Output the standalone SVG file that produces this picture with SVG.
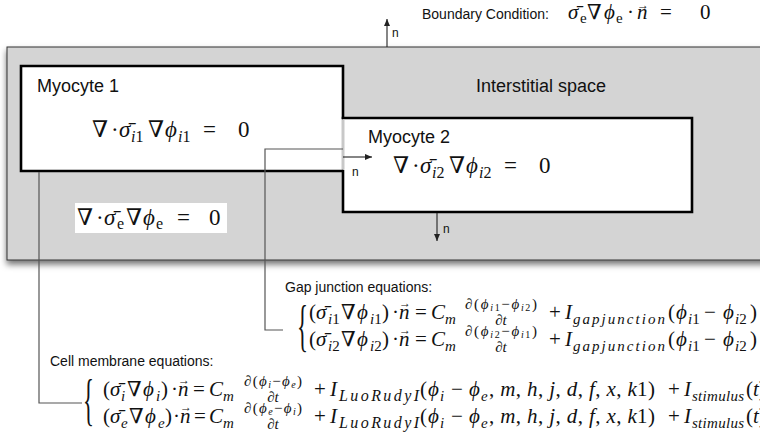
<svg xmlns="http://www.w3.org/2000/svg" width="760" height="440" viewBox="0 0 760 440">
<defs>
<filter id="sh" x="-5%" y="-5%" width="110%" height="120%">
<feDropShadow dx="0" dy="4" stdDeviation="3" flood-color="#000" flood-opacity="0.55"/>
</filter>
<marker id="ah" markerWidth="8" markerHeight="8" refX="7" refY="4" orient="auto" markerUnits="userSpaceOnUse">
<path d="M0,1 L7,4 L0,7 Z" fill="#222"/>
</marker>
</defs>
<style>
.lbl{font-family:"Liberation Sans",Arial,sans-serif;font-size:18px;fill:#111}
.cap{font-family:"Liberation Sans",Arial,sans-serif;font-size:14px;fill:#111}
.nl{font-family:"Liberation Sans",Arial,sans-serif;font-size:12px;fill:#111}
.m{font-family:"Liberation Serif","DejaVu Serif",serif;font-size:21px;fill:#111}
.big{font-size:23px}
.bsb{font-size:16px}
.it{font-style:italic}
.sb{font-size:15px}
.sb2{font-size:16px}
.fr{font-size:15px}
.fs{font-size:10px}
.vec{font-size:12px}
.brace{font-size:57px}
.ar{stroke:#222;stroke-width:1.1;fill:none;marker-end:url(#ah)}
.cn{stroke:#555;stroke-width:1.2;fill:none}
.cell{fill:#fff;stroke:#000;stroke-width:2.6;stroke-linecap:square}
</style>
<rect width="760" height="440" fill="#fff"/>
<g id="interstitial">
<rect x="7" y="47" width="770" height="213" fill="#d4d4d4" stroke="#333" stroke-width="1" filter="url(#sh)"/>
<text class="lbl" x="476" y="92">Interstitial space</text>
<rect x="75" y="203" width="152" height="30" fill="#fff"/>
<text class="m big" y="225"><tspan x="77">∇</tspan><tspan x="96">·</tspan><tspan x="104" class="it">σ̄</tspan><tspan x="117" class="bsb" dy="4">e</tspan><tspan x="126" dy="-4">∇</tspan><tspan x="143" class="it">ϕ</tspan><tspan x="156" class="bsb" dy="4">e</tspan><tspan x="177" dy="-4">=</tspan><tspan x="209">0</tspan></text>
</g>
<g id="myocyte1">
<path class="cell" d="M343,118 V66 H21 V171 H343"/>
<text class="lbl" x="37" y="92">Myocyte 1</text>
<text class="m big" y="137"><tspan x="92">∇</tspan><tspan x="111">·</tspan><tspan x="119" class="it">σ̄</tspan><tspan x="131" class="bsb" dy="5"><tspan class="it">i</tspan>1</tspan><tspan x="148" dy="-5">∇</tspan><tspan x="165" class="it">ϕ</tspan><tspan x="178" class="bsb" dy="5"><tspan class="it">i</tspan>1</tspan><tspan x="203" dy="-5">=</tspan><tspan x="238">0</tspan></text>
</g>
<g id="myocyte2">
<path class="cell" d="M343,171 V212 H692 V118 H343"/>
<line x1="343" y1="120" x2="343" y2="169" stroke="#c8c8c8" stroke-width="3"/>
<text class="lbl" x="368" y="143">Myocyte 2</text>
<text class="m big" y="173"><tspan x="393">∇</tspan><tspan x="412">·</tspan><tspan x="420" class="it">σ̄</tspan><tspan x="432" class="bsb" dy="5"><tspan class="it">i</tspan>2</tspan><tspan x="449" dy="-5">∇</tspan><tspan x="466" class="it">ϕ</tspan><tspan x="479" class="bsb" dy="5"><tspan class="it">i</tspan>2</tspan><tspan x="504" dy="-5">=</tspan><tspan x="539">0</tspan></text>
</g>
<g id="boundary">
<text class="cap" x="422" y="19">Boundary Condition:</text>
<text class="m" y="19"><tspan x="568" class="it">σ̄</tspan><tspan x="580" class="sb" dy="4">e</tspan><tspan x="587" dy="-4">∇</tspan><tspan x="604" class="it">ϕ</tspan><tspan x="616" class="sb" dy="4">e</tspan><tspan x="627" dy="-4">·</tspan><tspan x="637" class="it">n</tspan><tspan x="660">=</tspan><tspan x="700">0</tspan></text>
<text class="m vec" x="637" y="9">→</text>
</g>
<g id="normals">
<line class="ar" x1="387" y1="47" x2="387" y2="19"/>
<text class="nl" x="392" y="37">n</text>
<line class="ar" x1="343" y1="157" x2="372" y2="157"/>
<text class="nl" x="352" y="176">n</text>
<line class="ar" x1="437" y1="213" x2="437" y2="241"/>
<text class="nl" x="443" y="233">n</text>
</g>
<g id="connectors">
<path class="cn" d="M39,172 V403 H82"/>
<path class="cn" d="M343,149 H265 V330 H283"/>
</g>
<g id="gap-junction">
<text class="cap" x="285" y="292">Gap junction equations:</text>
<text class="m brace" transform="translate(297,345) scale(0.4,1)">{</text>
<text class="m" y="319"><tspan x="309">(</tspan><tspan x="316" class="it">σ̄</tspan><tspan x="328" class="sb" dy="5"><tspan class="it">i</tspan>1</tspan><tspan x="341" dy="-5">∇</tspan><tspan x="357" class="it">ϕ</tspan><tspan x="370" class="sb" dy="5"><tspan class="it">i</tspan>1</tspan><tspan x="382" dy="-5">)</tspan><tspan x="392">·</tspan><tspan x="399" class="it">n</tspan><tspan x="415">=</tspan><tspan x="431" class="it">C</tspan><tspan x="445" class="sb it" dy="5">m</tspan><tspan x="549" dy="-5">+</tspan><tspan x="565" class="it">I</tspan><tspan x="668">(</tspan><tspan x="676" class="it">ϕ</tspan><tspan x="688" class="sb" dy="5"><tspan class="it">i</tspan>1</tspan><tspan x="704" dy="-5">−</tspan><tspan x="723" class="it">ϕ</tspan><tspan x="735" class="sb" dy="5"><tspan class="it">i</tspan>2</tspan><tspan x="750" dy="-5">)</tspan></text>
<text class="m vec" x="399" y="307">→</text>
<text class="m fr" x="501" y="309" text-anchor="middle" textLength="72" lengthAdjust="spacing">∂(<tspan class="it">ϕ</tspan><tspan class="fs" dy="2"><tspan class="it">i</tspan>1</tspan><tspan dy="-2">−</tspan><tspan class="it">ϕ</tspan><tspan class="fs" dy="2"><tspan class="it">i</tspan>2</tspan><tspan dy="-2">)</tspan></text>
<text class="m fr it" x="501" y="325" text-anchor="middle">∂t</text>
<text class="m sb it" x="573" y="324" textLength="92" lengthAdjust="spacing">gapjunction</text>
<text class="m" y="346"><tspan x="309">(</tspan><tspan x="316" class="it">σ̄</tspan><tspan x="328" class="sb" dy="5"><tspan class="it">i</tspan>2</tspan><tspan x="341" dy="-5">∇</tspan><tspan x="357" class="it">ϕ</tspan><tspan x="370" class="sb" dy="5"><tspan class="it">i</tspan>2</tspan><tspan x="382" dy="-5">)</tspan><tspan x="392">·</tspan><tspan x="399" class="it">n</tspan><tspan x="415">=</tspan><tspan x="431" class="it">C</tspan><tspan x="445" class="sb it" dy="5">m</tspan><tspan x="549" dy="-5">+</tspan><tspan x="565" class="it">I</tspan><tspan x="668">(</tspan><tspan x="676" class="it">ϕ</tspan><tspan x="688" class="sb" dy="5"><tspan class="it">i</tspan>1</tspan><tspan x="704" dy="-5">−</tspan><tspan x="723" class="it">ϕ</tspan><tspan x="735" class="sb" dy="5"><tspan class="it">i</tspan>2</tspan><tspan x="750" dy="-5">)</tspan></text>
<text class="m vec" x="399" y="334">→</text>
<text class="m fr" x="501" y="336" text-anchor="middle" textLength="72" lengthAdjust="spacing">∂(<tspan class="it">ϕ</tspan><tspan class="fs" dy="2"><tspan class="it">i</tspan>2</tspan><tspan dy="-2">−</tspan><tspan class="it">ϕ</tspan><tspan class="fs" dy="2"><tspan class="it">i</tspan>1</tspan><tspan dy="-2">)</tspan></text>
<text class="m fr it" x="501" y="352" text-anchor="middle">∂t</text>
<text class="m sb it" x="573" y="351" textLength="92" lengthAdjust="spacing">gapjunction</text>
</g>
<g id="cell-membrane">
<text class="cap" x="50" y="366">Cell membrane equations:</text>
<text class="m brace" transform="translate(83,419) scale(0.4,1)">{</text>
<text class="m" y="396"><tspan x="103">(</tspan><tspan x="110" class="it">σ̄</tspan><tspan x="121" class="sb it" dy="5">i</tspan><tspan x="127" dy="-5">∇</tspan><tspan x="143" class="it">ϕ</tspan><tspan x="156" class="sb it" dy="5">i</tspan><tspan x="161" dy="-5">)</tspan><tspan x="171">·</tspan><tspan x="178" class="it">n</tspan><tspan x="193">=</tspan><tspan x="209" class="it">C</tspan><tspan x="223" class="sb it" dy="5">m</tspan><tspan x="314" dy="-5">+</tspan><tspan x="330" class="it">I</tspan><tspan x="420">(</tspan><tspan x="428" class="it">ϕ</tspan><tspan x="440" class="sb it" dy="5">i</tspan><tspan x="451" dy="-5">−</tspan><tspan x="469" class="it">ϕ</tspan><tspan x="481" class="sb it" dy="5">e</tspan><tspan x="668" dy="-5">+</tspan><tspan x="684" class="it">I</tspan><tspan x="746">(</tspan><tspan class="it">t</tspan>)</text>
<text class="m vec" x="178" y="384">→</text>
<text class="m" x="489" y="396" textLength="166" lengthAdjust="spacing">, <tspan class="it">m</tspan>, <tspan class="it">h</tspan>, <tspan class="it">j</tspan>, <tspan class="it">d</tspan>, <tspan class="it">f</tspan>, <tspan class="it">x</tspan>, <tspan class="it">k</tspan>1)</text>
<text class="m fr" x="273" y="386" text-anchor="middle" textLength="58" lengthAdjust="spacing">∂(<tspan class="it">ϕ</tspan><tspan class="fs it" dy="2">i</tspan><tspan dy="-2">−</tspan><tspan class="it">ϕ</tspan><tspan class="fs it" dy="2">e</tspan><tspan dy="-2">)</tspan></text>
<text class="m fr it" x="273" y="402" text-anchor="middle">∂t</text>
<text class="m sb2 it" x="339" y="401" textLength="80" lengthAdjust="spacing">LuoRudyI</text>
<text class="m sb it" x="692" y="401" textLength="52" lengthAdjust="spacing">stimulus</text>
<text class="m" y="423"><tspan x="103">(</tspan><tspan x="110" class="it">σ̄</tspan><tspan x="121" class="sb it" dy="5">e</tspan><tspan x="129" dy="-5">∇</tspan><tspan x="145" class="it">ϕ</tspan><tspan x="158" class="sb it" dy="5">e</tspan><tspan x="165" dy="-5">)</tspan><tspan x="173">·</tspan><tspan x="180" class="it">n</tspan><tspan x="194">=</tspan><tspan x="209" class="it">C</tspan><tspan x="223" class="sb it" dy="5">m</tspan><tspan x="314" dy="-5">+</tspan><tspan x="330" class="it">I</tspan><tspan x="420">(</tspan><tspan x="428" class="it">ϕ</tspan><tspan x="440" class="sb it" dy="5">i</tspan><tspan x="451" dy="-5">−</tspan><tspan x="469" class="it">ϕ</tspan><tspan x="481" class="sb it" dy="5">e</tspan><tspan x="668" dy="-5">+</tspan><tspan x="684" class="it">I</tspan><tspan x="746">(</tspan><tspan class="it">t</tspan>)</text>
<text class="m vec" x="180" y="411">→</text>
<text class="m" x="489" y="423" textLength="166" lengthAdjust="spacing">, <tspan class="it">m</tspan>, <tspan class="it">h</tspan>, <tspan class="it">j</tspan>, <tspan class="it">d</tspan>, <tspan class="it">f</tspan>, <tspan class="it">x</tspan>, <tspan class="it">k</tspan>1)</text>
<text class="m fr" x="273" y="413" text-anchor="middle" textLength="58" lengthAdjust="spacing">∂(<tspan class="it">ϕ</tspan><tspan class="fs it" dy="2">e</tspan><tspan dy="-2">−</tspan><tspan class="it">ϕ</tspan><tspan class="fs it" dy="2">i</tspan><tspan dy="-2">)</tspan></text>
<text class="m fr it" x="273" y="429" text-anchor="middle">∂t</text>
<text class="m sb2 it" x="339" y="428" textLength="80" lengthAdjust="spacing">LuoRudyI</text>
<text class="m sb it" x="692" y="428" textLength="52" lengthAdjust="spacing">stimulus</text>
</g>
</svg>
